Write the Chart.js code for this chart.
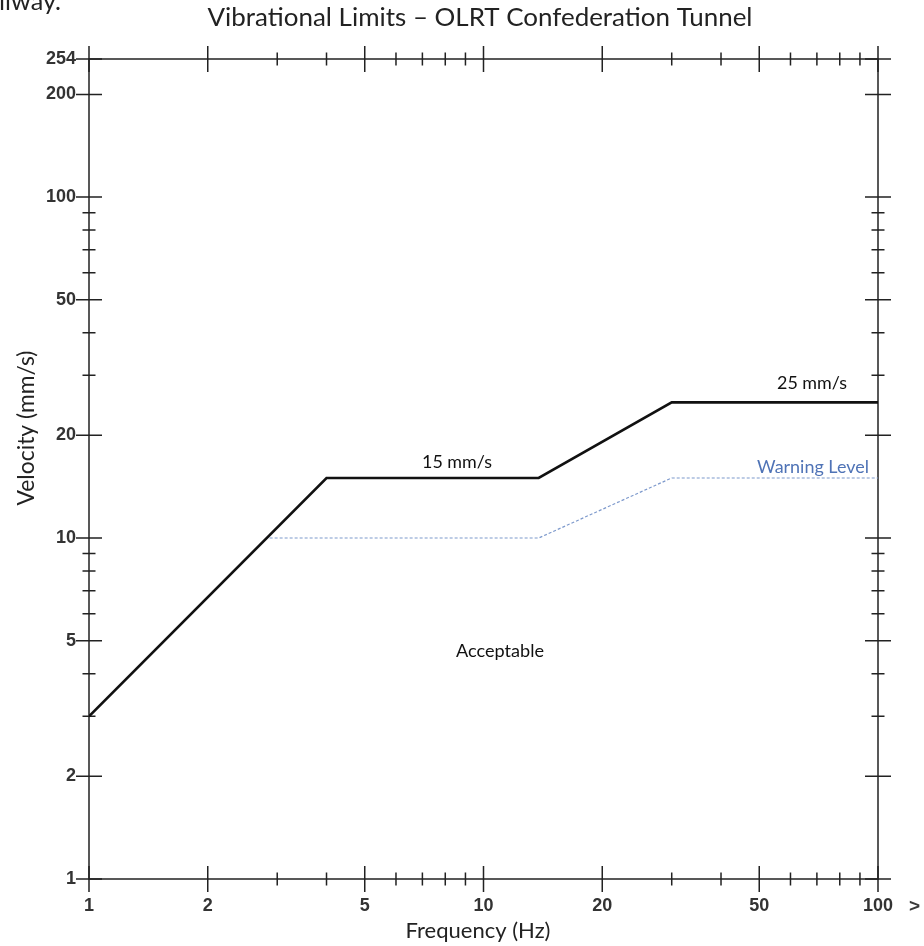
<!DOCTYPE html>
<html>
<head>
<meta charset="utf-8">
<script src="https://cdn.jsdelivr.net/npm/chart.js@4.4.1/dist/chart.umd.min.js"></script>
<style>
html,body{margin:0;padding:0;background:#fff;}
canvas{display:block;}
</style>
</head>
<body>
<canvas id="c" width="924" height="946"></canvas>
<script>
// ---- data ----
const xMajorTicks = [1, 2, 5, 10, 20, 50, 100];
const xMinorTicks = [3, 4, 6, 7, 8, 9, 30, 40, 60, 70, 80, 90];
const yMajorTicks = [1, 2, 5, 10, 20, 50, 100, 200, 254];
const yMinorTicks = [3, 4, 6, 7, 8, 9, 30, 40, 60, 70, 80, 90];

const limitFreq = [1, 4, 13.8, 30, 100];
const limitVel  = [3, 15, 15, 25, 25];
const warnFreq  = [2.87, 13.8, 30, 100];
const warnVel   = [10, 10, 15, 15];

const chartTitle = 'Vibrational Limits \u2013 OLRT Confederation Tunnel';
const xTitle = 'Frequency (Hz)';
const yTitle = 'Velocity (mm/s)';
const labelLimit15 = '15 mm/s';
const labelLimit25 = '25 mm/s';
const labelWarning = 'Warning Level';
const labelAcceptable = 'Acceptable';

// ---- drawing helpers ----
function fitFont(ctx, text, width, weight, family) {
  ctx.font = weight + ' 100px ' + family;
  const w = ctx.measureText(text).width;
  const size = 100 * width / w;
  return weight + ' ' + size.toFixed(2) + 'px ' + family;
}
function drawText(ctx, text, cx, cy, width, color, family, weight) {
  ctx.save();
  ctx.font = fitFont(ctx, text, width, weight || 'normal', family || 'Lato');
  ctx.fillStyle = color;
  ctx.textAlign = 'center';
  ctx.textBaseline = 'middle';
  ctx.fillText(text, cx, cy);
  ctx.restore();
}

const frame = {
  id: 'frame',
  beforeDatasetsDraw(chart) {
    const ctx = chart.ctx;
    const a = chart.chartArea;
    const xs = chart.scales.x, ys = chart.scales.y;
    const MAJ = 13, MIN = 6.5;
    ctx.save();
    ctx.strokeStyle = '#222';
    ctx.lineWidth = 1.5;
    ctx.lineCap = 'butt';
    ctx.beginPath();
    ctx.rect(a.left, a.top, a.right - a.left, a.bottom - a.top);
    ctx.stroke();
    ctx.beginPath();
    const xt = (v, len) => {
      const px = xs.getPixelForValue(v);
      ctx.moveTo(px, a.bottom - len); ctx.lineTo(px, a.bottom + len);
      ctx.moveTo(px, a.top - len); ctx.lineTo(px, a.top + len);
    };
    const yt = (v, len) => {
      const py = ys.getPixelForValue(v);
      ctx.moveTo(a.left - len, py); ctx.lineTo(a.left + len, py);
      ctx.moveTo(a.right - len, py); ctx.lineTo(a.right + len, py);
    };
    xMajorTicks.forEach(v => xt(v, MAJ));
    xMinorTicks.forEach(v => xt(v, MIN));
    yMajorTicks.forEach(v => yt(v, MAJ));
    yMinorTicks.forEach(v => yt(v, MIN));
    ctx.stroke();
    ctx.restore();
  },
  afterDraw(chart) {
    const ctx = chart.ctx;
    // cropped text from the page above
    ctx.save();
    ctx.font = fitFont(ctx, 'ilway.', 62, 'normal', 'Lato');
    ctx.fillStyle = '#222';
    ctx.textAlign = 'left';
    ctx.textBaseline = 'alphabetic';
    ctx.fillText('ilway.', -1, 10);
    ctx.restore();

    drawText(ctx, chartTitle, 480, 18, 545, '#222');
    drawText(ctx, xTitle, 478, 931, 145, '#222');
    ctx.save();
    ctx.translate(27, 428);
    ctx.rotate(-Math.PI / 2);
    drawText(ctx, yTitle, 0, 0, 155, '#222');
    ctx.restore();

    drawText(ctx, labelLimit15, 457, 462, 70, '#111');
    drawText(ctx, labelLimit25, 812, 383, 70, '#111');
    drawText(ctx, labelWarning, 813, 467, 112, '#4f73b6');
    drawText(ctx, labelAcceptable, 500, 651, 88, '#111');

    ctx.save();
    ctx.font = 'bold 19px "Liberation Sans"';
    ctx.fillStyle = '#3a3a3a';
    ctx.textAlign = 'left';
    ctx.textBaseline = 'middle';
    ctx.fillText('>', 909, 907);
    ctx.restore();
  }
};

const tickFont = { family: '"Liberation Sans", Arial, sans-serif', size: 18, weight: 'bold' };

new Chart(document.getElementById('c'), {
  type: 'scatter',
  data: {
    datasets: [
      {
        data: limitFreq.map((f, i) => ({ x: f, y: limitVel[i] })),
        showLine: true, borderColor: '#111', borderWidth: 2.6,
        pointRadius: 0, tension: 0, fill: false
      },
      {
        data: warnFreq.map((f, i) => ({ x: f, y: warnVel[i] })),
        showLine: true, borderColor: '#7d99cc', borderWidth: 1.2,
        borderDash: [3, 2], pointRadius: 0, tension: 0, fill: false
      }
    ]
  },
  options: {
    responsive: false,
    animation: false,
    events: [],
    layout: { padding: { left: 0, top: 59, right: 46, bottom: 0 } },
    plugins: { legend: { display: false }, tooltip: { enabled: false }, title: { display: false } },
    scales: {
      x: {
        type: 'logarithmic', min: 1, max: 100,
        grid: { display: false, drawTicks: false },
        border: { display: false },
        afterBuildTicks: s => { s.ticks = xMajorTicks.map(v => ({ value: v })); },
        afterFit: s => { s.height = 67; },
        ticks: {
          autoSkip: false, maxRotation: 0, minRotation: 0, padding: 16,
          color: '#333', font: tickFont,
          callback: v => String(v)
        }
      },
      y: {
        type: 'logarithmic', min: 1, max: 254,
        grid: { display: false, drawTicks: false },
        border: { display: false },
        afterBuildTicks: s => { s.ticks = yMajorTicks.map(v => ({ value: v })); },
        afterFit: s => { s.width = 89; },
        ticks: {
          autoSkip: false, padding: 13,
          color: '#333', font: tickFont,
          callback: v => String(v)
        }
      }
    }
  },
  plugins: [frame]
});
</script>
</body>
</html>
